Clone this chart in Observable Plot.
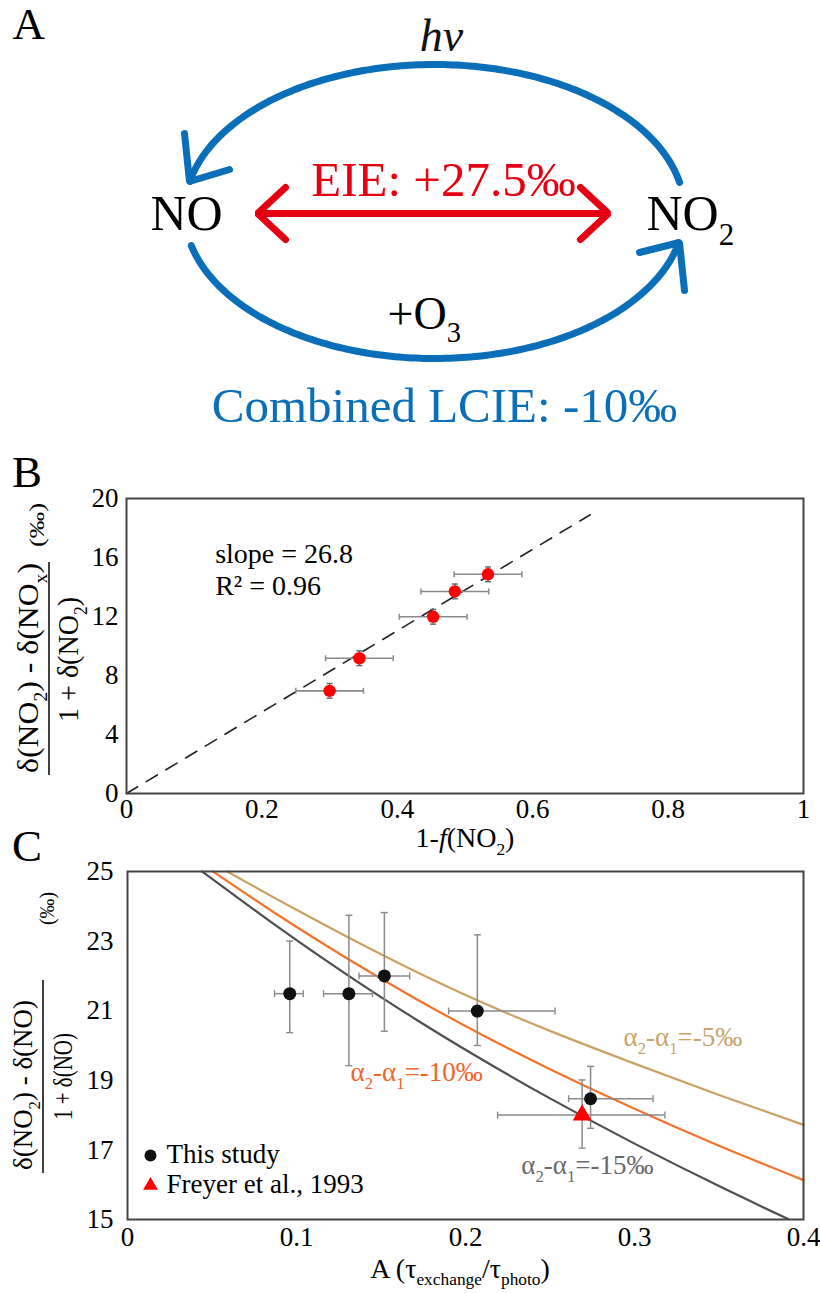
<!DOCTYPE html>
<html>
<head>
<meta charset="utf-8">
<script src="https://cdn.jsdelivr.net/npm/d3@7"></script>
<script src="https://cdn.jsdelivr.net/npm/@observablehq/plot@0.6"></script>
<style>
  body { margin: 0; background: #fff; }
  #fig { position: relative; width: 820px; height: 1293px; overflow: hidden; background: #fff; }
  .panel { position: absolute; left: 0; }
  #fig text, #fig tspan { font-family: "Liberation Serif", "Times New Roman", serif !important; }
</style>
</head>
<body>
<div id="fig"></div>
<script>
// ================= DATA =================
// Panel A (diagram labels)
const panelA_labels = ["A", "hv", "NO", "NO_{2}", "EIE: +27.5‰", "+O_{3}", "Combined LCIE: -10‰"];

// Panel B
const panelB_x    = [0.300, 0.344, 0.453, 0.485, 0.534];
const panelB_y    = [6.96, 9.17, 11.98, 13.70, 14.86];
const panelB_xErr = [0.05, 0.05, 0.05, 0.05, 0.05];
const panelB_yErr = [0.5, 0.5, 0.5, 0.5, 0.5];
const panelB_fitX = [0, 0.685];
const panelB_fitY = [0, 18.9];
const panelB_xTicks = [0, 0.2, 0.4, 0.6, 0.8, 1];
const panelB_yTicks = [0, 4, 8, 12, 16, 20];
const panelB_notes = ["slope = 26.8", "R² = 0.96"];

// Panel C
const studyA   = [0.096, 0.131, 0.152, 0.207, 0.274];
const studyD   = [21.49, 21.49, 22.00, 20.99, 18.47];
const studyAlo = [0.087, 0.116, 0.137, 0.190, 0.261];
const studyAhi = [0.104, 0.145, 0.167, 0.253, 0.311];
const studyDlo = [20.37, 19.42, 20.41, 20.00, 17.62];
const studyDhi = [23.00, 23.74, 23.82, 23.18, 19.40];
const freyerA   = [0.269];
const freyerD   = [18.00];
const freyerAlo = [0.219];
const freyerAhi = [0.318];
const freyerDlo = [17.05];
const freyerDhi = [19.01];
const curveNames = ["α_{2}-α_{1}=-5‰", "α_{2}-α_{1}=-10‰", "α_{2}-α_{1}=-15‰"];
const curve5A  = [0.059, 0.10, 0.15, 0.20, 0.25, 0.30, 0.35, 0.40];
const curve5D  = [25.00, 23.90, 22.62, 21.45, 20.42, 19.48, 18.58, 17.72];
const curve10A = [0.0507, 0.09, 0.13, 0.17, 0.21, 0.25, 0.30, 0.35, 0.40];
const curve10D = [25.00, 23.72, 22.50, 21.36, 20.30, 19.32, 18.18, 17.12, 16.13];
const curve15A = [0.0442, 0.09, 0.13, 0.17, 0.21, 0.25, 0.30, 0.35, 0.391];
const curve15D = [25.00, 23.37, 22.03, 20.77, 19.59, 18.48, 17.18, 15.96, 15.01];
const panelC_xTicks = [0, 0.1, 0.2, 0.3, 0.4];
const panelC_yTicks = [15, 17, 19, 21, 23, 25];
const legendLabels = ["This study", "Freyer et al., 1993"];

// ================= STYLE =================
const serif = "Liberation Serif, Times New Roman, serif";
const blue = "#0a6fb8", red = "#e60012";
const tan = "#c9a266", orange = "#f2732a", dgray = "#4f4f4f";
const errGray = "#8a8a8a";
const fig = document.getElementById("fig");

const vcap = {draw(ctx, size) { const r = Math.sqrt(size / Math.PI); ctx.moveTo(0, -r); ctx.lineTo(0, r); }};
const hcap = {draw(ctx, size) { const r = Math.sqrt(size / Math.PI); ctx.moveTo(-r, 0); ctx.lineTo(r, 0); }};

function place(svg, top) {
  const d = document.createElement("div");
  d.className = "panel";
  d.style.top = top + "px";
  svg.setAttribute("font-family", serif);
  d.appendChild(svg);
  fig.appendChild(d);
  return svg;
}

function richify(root) {
  root.querySelectorAll("g").forEach(g => { if (g.hasAttribute("font-family")) g.setAttribute("font-family", serif); });
  root.querySelectorAll("text").forEach(t => {
    t.setAttribute("font-family", serif);
    if (t.querySelector("tspan")) return;
    const s = t.textContent;
    if (!/[_*]\{/.test(s)) return;
    const fs = parseFloat(getComputedStyle(t).fontSize) || 16;
    const parts = s.split(/(_\{[^}]*\}|\*\{[^}]*\})/).filter(p => p !== "");
    t.textContent = "";
    const shift = fs * (+t.getAttribute("data-shift") || 0.3);
    let shifted = false;
    for (const p of parts) {
      const ts = document.createElementNS("http://www.w3.org/2000/svg", "tspan");
      let dy = 0;
      if (p.startsWith("_{")) {
        ts.textContent = p.slice(2, -1);
        ts.setAttribute("font-size", (fs * 0.62).toFixed(2));
        if (!shifted) { dy = shift; shifted = true; }
      } else {
        if (p.startsWith("*{")) { ts.textContent = p.slice(2, -1); ts.setAttribute("font-style", "italic"); }
        else ts.textContent = p;
        if (shifted) { dy = -shift; shifted = false; }
      }
      if (dy) ts.setAttribute("dy", dy.toFixed(2));
      t.appendChild(ts);
    }
  });
}

function addText(svg, {x, y, text, size, anchor = "start", fill = "#000", rotate = 0, lx = 0, ly = 0, textLength = null, shift = null}) {
  const t = d3.select(svg).append("text")
    .attr("transform", `translate(${x},${y}) rotate(${rotate}) translate(${lx},${ly})`)
    .attr("font-family", serif).attr("font-size", size)
    .attr("text-anchor", anchor).attr("fill", fill).text(text);
  if (shift != null) t.attr("data-shift", shift);
  if (textLength) t.attr("textLength", textLength).attr("lengthAdjust", "spacingAndGlyphs");
  return t;
}

const baseStyle = {fontSize: "27px", background: "transparent", overflow: "visible", color: "#000"};

// ================= PANEL A =================
const cxE = 434, cyE = 211, rxE = 250, ryE = 147;
const arc = (a0, a1) => d3.range(0, 1.0001, 1 / 160).map(t => {
  const a = (a0 + (a1 - a0) * t) * Math.PI / 180;
  return {x: cxE + rxE * Math.cos(a), y: cyE - ryE * Math.sin(a)};
});
const topArc = arc(11.4, 168.2);
const bottomArc = arc(193.4, 347.8);
const blueHeads = [
  {g: 0, x: 184, y: 133}, {g: 0, x: 189, y: 181}, {g: 0, x: 229, y: 169},
  {g: 1, x: 639, y: 252}, {g: 1, x: 679, y: 242}, {g: 1, x: 684, y: 290}
];
const redShaft = [{x: 258, y: 213}, {x: 606, y: 213}];
const redHeads = [
  {g: 0, x: 285, y: 187}, {g: 0, x: 257, y: 213}, {g: 0, x: 285, y: 239},
  {g: 1, x: 580, y: 187}, {g: 1, x: 608, y: 213}, {g: 1, x: 580, y: 239}
];

const txt = {fontFamily: serif, lineAnchor: "bottom"};
const plotA = Plot.plot({
  width: 820, height: 440, margin: 0,
  x: {domain: [0, 820], axis: null},
  y: {domain: [0, 440], reverse: true, axis: null},
  style: baseStyle,
  marks: [
    Plot.line(topArc, {x: "x", y: "y", stroke: blue, strokeWidth: 7}),
    Plot.line(bottomArc, {x: "x", y: "y", stroke: blue, strokeWidth: 7}),
    Plot.line(blueHeads, {x: "x", y: "y", z: "g", stroke: blue, strokeWidth: 7, strokeLinejoin: "miter"}),
    Plot.line(redShaft, {x: "x", y: "y", stroke: red, strokeWidth: 7}),
    Plot.line(redHeads, {x: "x", y: "y", z: "g", stroke: red, strokeWidth: 7, strokeLinejoin: "miter"}),
    Plot.text([panelA_labels[0]], {...txt, x: 12, y: 38, text: d => d, fontSize: 45, textAnchor: "start", fill: "#000"}),
    Plot.text([panelA_labels[1]], {...txt, x: 441, y: 50, text: d => d, fontSize: 46, fontStyle: "italic", textAnchor: "middle", fill: "#111"}),
    Plot.text([panelA_labels[2]], {...txt, x: 150, y: 229, text: d => d, fontSize: 50, textAnchor: "start", fill: "#000"}),
    Plot.text([panelA_labels[3]], {...txt, x: 646, y: 229, text: d => d, fontSize: 50, textAnchor: "start", fill: "#000"}),
    Plot.text([panelA_labels[4]], {...txt, x: 443, y: 195, text: d => d, fontSize: 49, textAnchor: "middle", fill: red}),
    Plot.text([panelA_labels[5]], {...txt, x: 387, y: 328, text: d => d, fontSize: 46, textAnchor: "start", fill: "#000"}),
    Plot.text([panelA_labels[6]], {...txt, x: 444, y: 421, text: d => d, fontSize: 49, textAnchor: "middle", fill: blue})
  ]
});
place(plotA, 0);

// ================= PANEL B =================
const bData = panelB_x.map((x, i) => ({
  x, y: panelB_y[i],
  xlo: x - panelB_xErr[i], xhi: x + panelB_xErr[i],
  ylo: panelB_y[i] - panelB_yErr[i], yhi: panelB_y[i] + panelB_yErr[i]
}));
const bFit = panelB_fitX.map((x, i) => ({x, y: panelB_fitY[i]}));

const plotB = Plot.plot({
  width: 820, height: 440,
  marginTop: 58, marginBottom: 87, marginLeft: 126, marginRight: 17,
  style: baseStyle,
  x: {domain: [0, 1], ticks: panelB_xTicks, tickFormat: d => String(d), tickSize: 0, tickPadding: 5, label: null},
  y: {domain: [0, 20], ticks: panelB_yTicks, tickFormat: d => String(d), tickSize: 0, tickPadding: 8, label: null},
  marks: [
    Plot.line(bFit, {x: "x", y: "y", stroke: "#222", strokeWidth: 1.6, strokeDasharray: "13,10"}),
    Plot.ruleY(bData, {y: "y", x1: "xlo", x2: "xhi", stroke: errGray, strokeWidth: 1.6}),
    Plot.dot(bData, {x: "xlo", y: "y", symbol: vcap, r: 3, fill: "none", stroke: errGray, strokeWidth: 1.5}),
    Plot.dot(bData, {x: "xhi", y: "y", symbol: vcap, r: 3, fill: "none", stroke: errGray, strokeWidth: 1.5}),
    Plot.ruleX(bData, {x: "x", y1: "ylo", y2: "yhi", stroke: "#666", strokeWidth: 1.4}),
    Plot.dot(bData, {x: "x", y: "ylo", symbol: hcap, r: 3, fill: "none", stroke: "#666", strokeWidth: 1.4}),
    Plot.dot(bData, {x: "x", y: "yhi", symbol: hcap, r: 3, fill: "none", stroke: "#666", strokeWidth: 1.4}),
    Plot.dot(bData, {x: "x", y: "y", r: 6.2, fill: "#ff0000", stroke: "none"}),
    Plot.text([panelB_notes[0]], {...txt, x: 0.131, y: 15.6, text: d => d, fontSize: 28, textAnchor: "start", fill: "#000"}),
    Plot.text([panelB_notes[1]], {...txt, x: 0.131, y: 13.45, text: d => d, fontSize: 28, textAnchor: "start", fill: "#000"}),
    Plot.frame({stroke: "#444", strokeWidth: 2})
  ]
});
place(plotB, 440);
addText(plotB, {x: 12, y: 47, text: "B", size: 45});
addText(plotB, {x: 465, y: 407, text: "1-*{f}(NO_{2})", size: 28, anchor: "middle"});
addText(plotB, {x: 49, y: 228, rotate: -90, lx: 0, ly: -11, text: "δ(NO_{2}) - δ(NO_{x})", size: 30, anchor: "middle", textLength: 210});
addText(plotB, {x: 49, y: 228, rotate: -90, lx: 8.5, ly: 29, text: "1 + δ(NO_{2})", size: 30, anchor: "middle", textLength: 125});
addText(plotB, {x: 49, y: 228, rotate: -90, lx: 143, ly: -5, text: "(‰)", size: 21, anchor: "middle", textLength: 44});
d3.select(plotB).append("line").attr("x1", 49).attr("x2", 49).attr("y1", 122).attr("y2", 335).attr("stroke", "#000").attr("stroke-width", 1.5);

// ================= PANEL C =================
const study = studyA.map((a, i) => ({a, d: studyD[i], alo: studyAlo[i], ahi: studyAhi[i], dlo: studyDlo[i], dhi: studyDhi[i]}));
const freyer = freyerA.map((a, i) => ({a, d: freyerD[i], alo: freyerAlo[i], ahi: freyerAhi[i], dlo: freyerDlo[i], dhi: freyerDhi[i]}));
const errRows = study.concat(freyer);
const curves = [
  ...curve5A.map((a, i) => ({a, d: curve5D[i], s: curveNames[0]})),
  ...curve10A.map((a, i) => ({a, d: curve10D[i], s: curveNames[1]})),
  ...curve15A.map((a, i) => ({a, d: curve15D[i], s: curveNames[2]}))
];
const curveColor = {[curveNames[0]]: tan, [curveNames[1]]: orange, [curveNames[2]]: dgray};
const labelColor = {[curveNames[0]]: "#c9a46c", [curveNames[1]]: "#f0652a", [curveNames[2]]: "#6a6a6a"};

const plotC = Plot.plot({
  width: 820, height: 463,
  marginTop: 41, marginBottom: 74, marginLeft: 127, marginRight: 17,
  style: baseStyle,
  x: {domain: [0, 0.4], ticks: panelC_xTicks, tickFormat: d => String(d), tickSize: 0, tickPadding: 7, label: null},
  y: {domain: [15, 25], ticks: panelC_yTicks, tickFormat: d => String(d), tickSize: 0, tickPadding: 14, label: null},
  marks: [
    Plot.line(curves, {x: "a", y: "d", z: "s", stroke: d => curveColor[d.s], strokeWidth: 2.2, curve: "natural"}),
    Plot.ruleY(errRows, {y: "d", x1: "alo", x2: "ahi", stroke: errGray, strokeWidth: 1.5}),
    Plot.dot(errRows, {x: "alo", y: "d", symbol: vcap, r: 3.5, fill: "none", stroke: errGray, strokeWidth: 1.4}),
    Plot.dot(errRows, {x: "ahi", y: "d", symbol: vcap, r: 3.5, fill: "none", stroke: errGray, strokeWidth: 1.4}),
    Plot.ruleX(errRows, {x: "a", y1: "dlo", y2: "dhi", stroke: errGray, strokeWidth: 1.5}),
    Plot.dot(errRows, {x: "a", y: "dlo", symbol: hcap, r: 3.5, fill: "none", stroke: errGray, strokeWidth: 1.4}),
    Plot.dot(errRows, {x: "a", y: "dhi", symbol: hcap, r: 3.5, fill: "none", stroke: errGray, strokeWidth: 1.4}),
    Plot.dot(study, {x: "a", y: "d", r: 6.5, fill: "#111", stroke: "none"}),
    Plot.dot(freyer, {x: "a", y: "d", symbol: "triangle", r: 7, fill: "#ff0000", stroke: "none"}),
    Plot.text([curveNames[0]], {...txt, x: 0.2935, y: 20.0, text: d => d, fontSize: 27, fill: labelColor[curveNames[0]], textAnchor: "start"}),
    Plot.text([curveNames[1]], {...txt, x: 0.132, y: 18.97, text: d => d, fontSize: 27, fill: labelColor[curveNames[1]], textAnchor: "start"}),
    Plot.text([curveNames[2]], {...txt, x: 0.233, y: 16.32, text: d => d, fontSize: 27, fill: labelColor[curveNames[2]], textAnchor: "start"}),
    Plot.dot([legendLabels[0]], {frameAnchor: "bottom-left", dx: 23, dy: -64, r: 6, fill: "#111", stroke: "none"}),
    Plot.dot([legendLabels[1]], {frameAnchor: "bottom-left", dx: 23, dy: -34, symbol: "triangle", r: 5.5, fill: "#ff0000", stroke: "none"}),
    Plot.text([legendLabels[0]], {...txt, frameAnchor: "bottom-left", dx: 39, dy: -57, text: d => d, fontSize: 27, textAnchor: "start", fill: "#000"}),
    Plot.text([legendLabels[1]], {...txt, frameAnchor: "bottom-left", dx: 39, dy: -27, text: d => d, fontSize: 27, textAnchor: "start", fill: "#000"}),
    Plot.frame({stroke: "#444", strokeWidth: 2})
  ]
});
place(plotC, 830);
addText(plotC, {x: 12, y: 31, text: "C", size: 45});
addText(plotC, {x: 460, y: 448, text: "A (τ_{exchange}/τ_{photo})", size: 28, anchor: "middle", shift: 0.24});
addText(plotC, {x: 43, y: 246.5, rotate: -90, lx: -8.5, ly: -11, text: "δ(NO_{2}) - δ(NO)", size: 28, anchor: "middle", textLength: 170});
addText(plotC, {x: 43, y: 246.5, rotate: -90, lx: 0, ly: 29, text: "1 + δ(NO)", size: 28, anchor: "middle", textLength: 87});
addText(plotC, {x: 43, y: 246.5, rotate: -90, lx: 168, ly: 11, text: "(‰)", size: 20, anchor: "middle", textLength: 33});
d3.select(plotC).append("line").attr("x1", 43).attr("x2", 43).attr("y1", 150).attr("y2", 343).attr("stroke", "#000").attr("stroke-width", 1.5);

richify(fig);
</script>
</body>
</html>
